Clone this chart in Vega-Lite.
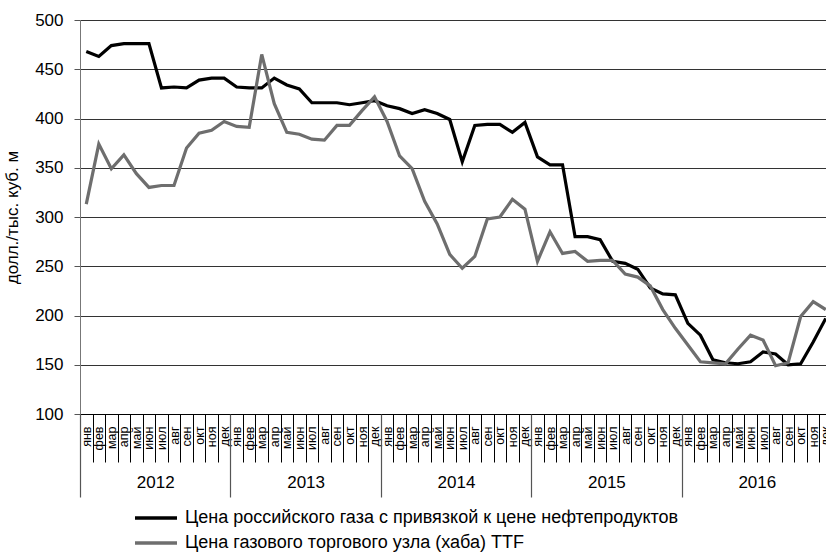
{
  "$schema": "https://vega.github.io/schema/vega-lite/v6.json",
  "autosize": "none",
  "width": 752,
  "height": 394,
  "padding": {"left": 80, "top": 20, "right": 0, "bottom": 139},
  "background": "white",
  "config": {
    "view": {"stroke": null},
    "font": "Liberation Sans"
  },
  "data": {
    "values": [
      {"period":"2012-01","year":"2012","series":"ru","value":468},
      {"period":"2012-02","year":"2012","series":"ru","value":463},
      {"period":"2012-03","year":"2012","series":"ru","value":474},
      {"period":"2012-04","year":"2012","series":"ru","value":476},
      {"period":"2012-05","year":"2012","series":"ru","value":476},
      {"period":"2012-06","year":"2012","series":"ru","value":476},
      {"period":"2012-07","year":"2012","series":"ru","value":431},
      {"period":"2012-08","year":"2012","series":"ru","value":432},
      {"period":"2012-09","year":"2012","series":"ru","value":431},
      {"period":"2012-10","year":"2012","series":"ru","value":439},
      {"period":"2012-11","year":"2012","series":"ru","value":441},
      {"period":"2012-12","year":"2012","series":"ru","value":441},
      {"period":"2013-01","year":"2013","series":"ru","value":432},
      {"period":"2013-02","year":"2013","series":"ru","value":431},
      {"period":"2013-03","year":"2013","series":"ru","value":431},
      {"period":"2013-04","year":"2013","series":"ru","value":441},
      {"period":"2013-05","year":"2013","series":"ru","value":434},
      {"period":"2013-06","year":"2013","series":"ru","value":430},
      {"period":"2013-07","year":"2013","series":"ru","value":416},
      {"period":"2013-08","year":"2013","series":"ru","value":416},
      {"period":"2013-09","year":"2013","series":"ru","value":416},
      {"period":"2013-10","year":"2013","series":"ru","value":414},
      {"period":"2013-11","year":"2013","series":"ru","value":416},
      {"period":"2013-12","year":"2013","series":"ru","value":418},
      {"period":"2014-01","year":"2014","series":"ru","value":413},
      {"period":"2014-02","year":"2014","series":"ru","value":410},
      {"period":"2014-03","year":"2014","series":"ru","value":405},
      {"period":"2014-04","year":"2014","series":"ru","value":409},
      {"period":"2014-05","year":"2014","series":"ru","value":405},
      {"period":"2014-06","year":"2014","series":"ru","value":399},
      {"period":"2014-07","year":"2014","series":"ru","value":356},
      {"period":"2014-08","year":"2014","series":"ru","value":393},
      {"period":"2014-09","year":"2014","series":"ru","value":394},
      {"period":"2014-10","year":"2014","series":"ru","value":394},
      {"period":"2014-11","year":"2014","series":"ru","value":386},
      {"period":"2014-12","year":"2014","series":"ru","value":396},
      {"period":"2015-01","year":"2015","series":"ru","value":361},
      {"period":"2015-02","year":"2015","series":"ru","value":353},
      {"period":"2015-03","year":"2015","series":"ru","value":353},
      {"period":"2015-04","year":"2015","series":"ru","value":280},
      {"period":"2015-05","year":"2015","series":"ru","value":280},
      {"period":"2015-06","year":"2015","series":"ru","value":277},
      {"period":"2015-07","year":"2015","series":"ru","value":255},
      {"period":"2015-08","year":"2015","series":"ru","value":253},
      {"period":"2015-09","year":"2015","series":"ru","value":247},
      {"period":"2015-10","year":"2015","series":"ru","value":228},
      {"period":"2015-11","year":"2015","series":"ru","value":222},
      {"period":"2015-12","year":"2015","series":"ru","value":221},
      {"period":"2016-01","year":"2016","series":"ru","value":192},
      {"period":"2016-02","year":"2016","series":"ru","value":180},
      {"period":"2016-03","year":"2016","series":"ru","value":155},
      {"period":"2016-04","year":"2016","series":"ru","value":152},
      {"period":"2016-05","year":"2016","series":"ru","value":151},
      {"period":"2016-06","year":"2016","series":"ru","value":153},
      {"period":"2016-07","year":"2016","series":"ru","value":163},
      {"period":"2016-08","year":"2016","series":"ru","value":161},
      {"period":"2016-09","year":"2016","series":"ru","value":150},
      {"period":"2016-10","year":"2016","series":"ru","value":151},
      {"period":"2016-11","year":"2016","series":"ru","value":173},
      {"period":"2016-12","year":"2016","series":"ru","value":197},
      {"period":"2012-01","year":"2012","series":"ttf","value":313},
      {"period":"2012-02","year":"2012","series":"ttf","value":374},
      {"period":"2012-03","year":"2012","series":"ttf","value":349},
      {"period":"2012-04","year":"2012","series":"ttf","value":363},
      {"period":"2012-05","year":"2012","series":"ttf","value":344},
      {"period":"2012-06","year":"2012","series":"ttf","value":330},
      {"period":"2012-07","year":"2012","series":"ttf","value":332},
      {"period":"2012-08","year":"2012","series":"ttf","value":332},
      {"period":"2012-09","year":"2012","series":"ttf","value":370},
      {"period":"2012-10","year":"2012","series":"ttf","value":385},
      {"period":"2012-11","year":"2012","series":"ttf","value":388},
      {"period":"2012-12","year":"2012","series":"ttf","value":397},
      {"period":"2013-01","year":"2013","series":"ttf","value":392},
      {"period":"2013-02","year":"2013","series":"ttf","value":391},
      {"period":"2013-03","year":"2013","series":"ttf","value":465},
      {"period":"2013-04","year":"2013","series":"ttf","value":415},
      {"period":"2013-05","year":"2013","series":"ttf","value":386},
      {"period":"2013-06","year":"2013","series":"ttf","value":384},
      {"period":"2013-07","year":"2013","series":"ttf","value":379},
      {"period":"2013-08","year":"2013","series":"ttf","value":378},
      {"period":"2013-09","year":"2013","series":"ttf","value":393},
      {"period":"2013-10","year":"2013","series":"ttf","value":393},
      {"period":"2013-11","year":"2013","series":"ttf","value":408},
      {"period":"2013-12","year":"2013","series":"ttf","value":422},
      {"period":"2014-01","year":"2014","series":"ttf","value":397},
      {"period":"2014-02","year":"2014","series":"ttf","value":362},
      {"period":"2014-03","year":"2014","series":"ttf","value":349},
      {"period":"2014-04","year":"2014","series":"ttf","value":316},
      {"period":"2014-05","year":"2014","series":"ttf","value":293},
      {"period":"2014-06","year":"2014","series":"ttf","value":262},
      {"period":"2014-07","year":"2014","series":"ttf","value":248},
      {"period":"2014-08","year":"2014","series":"ttf","value":260},
      {"period":"2014-09","year":"2014","series":"ttf","value":298},
      {"period":"2014-10","year":"2014","series":"ttf","value":300},
      {"period":"2014-11","year":"2014","series":"ttf","value":318},
      {"period":"2014-12","year":"2014","series":"ttf","value":308},
      {"period":"2015-01","year":"2015","series":"ttf","value":255},
      {"period":"2015-02","year":"2015","series":"ttf","value":285},
      {"period":"2015-03","year":"2015","series":"ttf","value":263},
      {"period":"2015-04","year":"2015","series":"ttf","value":265},
      {"period":"2015-05","year":"2015","series":"ttf","value":255},
      {"period":"2015-06","year":"2015","series":"ttf","value":256},
      {"period":"2015-07","year":"2015","series":"ttf","value":256},
      {"period":"2015-08","year":"2015","series":"ttf","value":242},
      {"period":"2015-09","year":"2015","series":"ttf","value":239},
      {"period":"2015-10","year":"2015","series":"ttf","value":230},
      {"period":"2015-11","year":"2015","series":"ttf","value":206},
      {"period":"2015-12","year":"2015","series":"ttf","value":187},
      {"period":"2016-01","year":"2016","series":"ttf","value":170},
      {"period":"2016-02","year":"2016","series":"ttf","value":153},
      {"period":"2016-03","year":"2016","series":"ttf","value":152},
      {"period":"2016-04","year":"2016","series":"ttf","value":151},
      {"period":"2016-05","year":"2016","series":"ttf","value":166},
      {"period":"2016-06","year":"2016","series":"ttf","value":180},
      {"period":"2016-07","year":"2016","series":"ttf","value":175},
      {"period":"2016-08","year":"2016","series":"ttf","value":149},
      {"period":"2016-09","year":"2016","series":"ttf","value":152},
      {"period":"2016-10","year":"2016","series":"ttf","value":199},
      {"period":"2016-11","year":"2016","series":"ttf","value":214},
      {"period":"2016-12","year":"2016","series":"ttf","value":206}
    ]
  },
  "layer": [
    {
      "mark": {"type": "line", "strokeWidth": 3.2},
      "encoding": {
        "x": {
          "field": "period",
          "type": "ordinal",
          "bandPosition": 0.5,
          "scale": {"type": "band", "paddingInner": 0, "paddingOuter": 0},
          "axis": {
            "title": null,
            "orient": "bottom",
            "tickBand": "extent",
            "tickSize": 48,
            "tickColor": "#000",
            "tickWidth": 1,
            "domainColor": "#000",
            "domainWidth": 1.2,
            "labelAngle": 270,
            "labelAlign": "right",
            "labelBaseline": "middle",
            "labelPadding": -36,
            "labelFontSize": 12.5,
            "labelColor": "#000",
            "labelFont": "Liberation Sans",
            "labelOverlap": false,
            "labelExpr": "['янв','фев','мар','апр','май','июн','июл','авг','сен','окт','ноя','дек'][toNumber(substring(datum.value,5,7))-1]"
          }
        },
        "y": {
          "field": "value",
          "type": "quantitative",
          "scale": {"domain": [100, 500], "nice": false, "zero": false},
          "axis": {
            "title": "долл./тыс. куб. м",
            "titleFontSize": 17,
            "titleFontWeight": "normal",
            "titleColor": "#000",
            "titleFont": "Liberation Sans",
            "titlePadding": 13,
            "values": [100, 150, 200, 250, 300, 350, 400, 450, 500],
            "grid": true,
            "gridColor": "#333",
            "gridWidth": 1,
            "tickSize": 6,
            "tickColor": "#555",
            "domainColor": "#777",
            "labelFontSize": 17,
            "labelColor": "#000",
            "labelFont": "Liberation Sans",
            "labelPadding": 11
          }
        },
        "color": {
          "field": "series",
          "type": "nominal",
          "scale": {"domain": ["ru", "ttf"], "range": ["#000000", "#6e6e6e"]},
          "legend": {
            "title": null,
            "orient": "none",
            "legendX": 53,
            "legendY": 490,
            "direction": "vertical",
            "symbolType": "stroke",
            "symbolSize": 1764,
            "symbolStrokeWidth": 3.5,
            "clipHeight": 16,
            "rowPadding": 7,
            "labelOffset": 6,
            "labelFontSize": 18,
            "labelColor": "#000",
            "labelFont": "Liberation Sans",
            "labelLimit": 800,
            "labelExpr": "datum.value == 'ru' ? 'Цена российского газа с привязкой к цене нефтепродуктов' : 'Цена газового торгового узла (хаба) TTF'"
          }
        }
      }
    },
    {
      "mark": {"type": "point", "opacity": 0},
      "encoding": {
        "x": {
          "field": "year",
          "type": "ordinal",
          "scale": {"type": "band", "paddingInner": 0, "paddingOuter": 0},
          "axis": {
            "title": null,
            "orient": "bottom",
            "tickBand": "extent",
            "tickSize": 83,
            "tickColor": "#555",
            "tickWidth": 1.2,
            "domain": false,
            "labelAngle": 0,
            "labelPadding": -23,
            "labelFontSize": 17,
            "labelColor": "#000",
            "labelFont": "Liberation Sans"
          }
        },
        "y": {"field": "value", "type": "quantitative"}
      }
    }
  ],
  "resolve": {"scale": {"x": "independent"}, "axis": {"x": "independent"}}
}
